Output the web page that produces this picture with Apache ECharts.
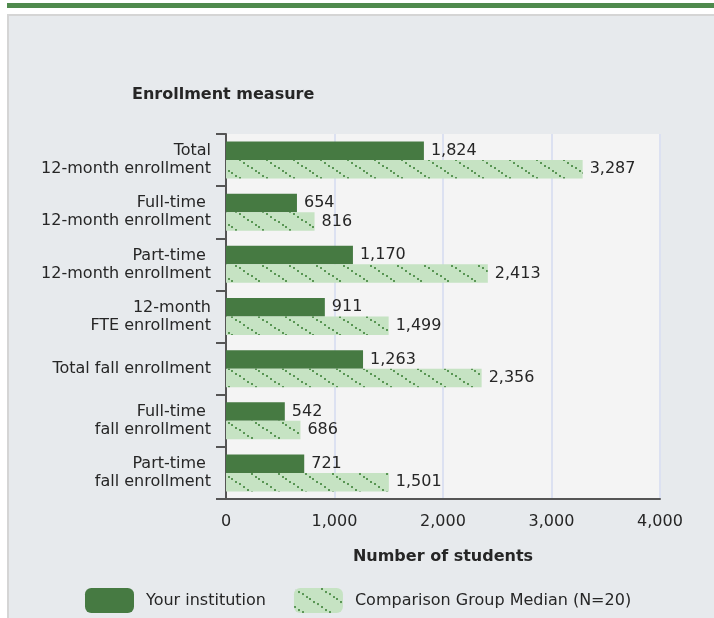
<!DOCTYPE html>
<html>
<head>
<meta charset="utf-8">
<script src="https://cdn.jsdelivr.net/npm/echarts@6/dist/echarts.min.js"></script>
<style>
  body { margin: 0; background: #ffffff; }
  #topbar { position: absolute; left: 7px; top: 3px; width: 707px; height: 5px; background: #4f8a4d; }
  #panel { position: absolute; left: 7px; top: 14px; width: 707px; height: 604px; background: #e7eaed;
           border-left: 2px solid #d5d5d5; border-top: 2px solid #d5d5d5; box-sizing: border-box; }
  #chart { position: absolute; left: 0; top: 0; width: 714px; height: 618px; }
</style>
</head>
<body>
<div id="topbar"></div>
<div id="panel"></div>
<div id="chart"></div>
<script>
// enrollment measures, top to bottom
const categories = [
  "Total\n12-month enrollment",
  "Full-time \n12-month enrollment",
  "Part-time \n12-month enrollment",
  "12-month\nFTE enrollment",
  "Total fall enrollment",
  "Full-time \nfall enrollment",
  "Part-time \nfall enrollment"
];
const yourInstitution = [1824, 654, 1170, 911, 1263, 542, 721];
const comparisonMedian = [3287, 816, 2413, 1499, 2356, 686, 1501];
const xTicks = [0, 1000, 2000, 3000, 4000];

const FONT = "DejaVu Sans";
const TEXT = "#262626";

// light green fill with dotted diagonal lines
function makeHatch() {
  const c = document.createElement("canvas");
  c.width = 27;
  c.height = 18;
  const g = c.getContext("2d");
  g.fillStyle = "#c6e3c3";
  g.fillRect(0, 0, 27, 18);
  g.fillStyle = "#5a9655";
  for (let t = 0; t < 27; t += 3.85) {
    g.fillRect(Math.round(t), Math.round(t * 18 / 27), 2, 2);
  }
  return c;
}
const hatch = { image: makeHatch(), repeat: "repeat" };

const myChart = echarts.init(document.getElementById("chart"));

const valueLabel = {
  show: true,
  position: "right",
  distance: 7,
  fontFamily: FONT,
  fontSize: 16,
  color: TEXT,
  formatter: (p) => p.value.toLocaleString("en-US")
};

const option = {
  backgroundColor: "transparent",
  animation: false,
  title: {
    text: "Enrollment measure",
    left: 127,
    top: 82,
    textStyle: { fontFamily: FONT, fontSize: 16, fontWeight: "bold", color: TEXT }
  },
  grid: {
    left: 226,
    top: 134,
    width: 434,
    height: 365,
    show: true,
    backgroundColor: "#f4f4f4",
    borderWidth: 0
  },
  legend: {
    left: 80,
    top: 583,
    itemWidth: 49,
    itemHeight: 25,
    itemGap: 28,
    icon: "roundRect",
    textStyle: { fontFamily: FONT, fontSize: 16, color: TEXT, padding: [0, 0, 0, 7] },
    data: ["Your institution", "Comparison Group Median (N=20)"]
  },
  xAxis: {
    type: "value",
    min: xTicks[0],
    max: xTicks[xTicks.length - 1],
    interval: 1000,
    name: "Number of students",
    nameLocation: "middle",
    nameGap: 50,
    nameTextStyle: { fontFamily: FONT, fontSize: 16, fontWeight: "bold", color: TEXT },
    axisLine: { show: true, lineStyle: { color: "#555", width: 2 } },
    axisTick: { show: false },
    axisLabel: {
      margin: 15,
      fontFamily: FONT,
      fontSize: 16,
      color: TEXT,
      formatter: (v) => v.toLocaleString("en-US")
    },
    splitLine: { show: true, lineStyle: { color: "#dce1f1", width: 2 } }
  },
  yAxis: {
    type: "category",
    inverse: true,
    data: categories,
    axisLine: { show: true, lineStyle: { color: "#555", width: 2 } },
    axisTick: { show: true, length: 10, lineStyle: { color: "#555", width: 2 } },
    axisLabel: {
      margin: 15,
      fontFamily: FONT,
      fontSize: 16,
      lineHeight: 18,
      color: TEXT,
      align: "right"
    },
    splitLine: { show: false }
  },
  series: [
    {
      name: "Your institution",
      type: "bar",
      data: yourInstitution,
      barGap: "0%",
      barCategoryGap: "29%",
      itemStyle: { color: "#467a42" },
      label: valueLabel
    },
    {
      name: "Comparison Group Median (N=20)",
      type: "bar",
      data: comparisonMedian,
      barGap: "0%",
      barCategoryGap: "29%",
      itemStyle: { color: hatch },
      label: valueLabel
    }
  ]
};

myChart.setOption(option);
window.addEventListener("resize", () => {
  myChart.resize();
});
</script>
</body>
</html>
